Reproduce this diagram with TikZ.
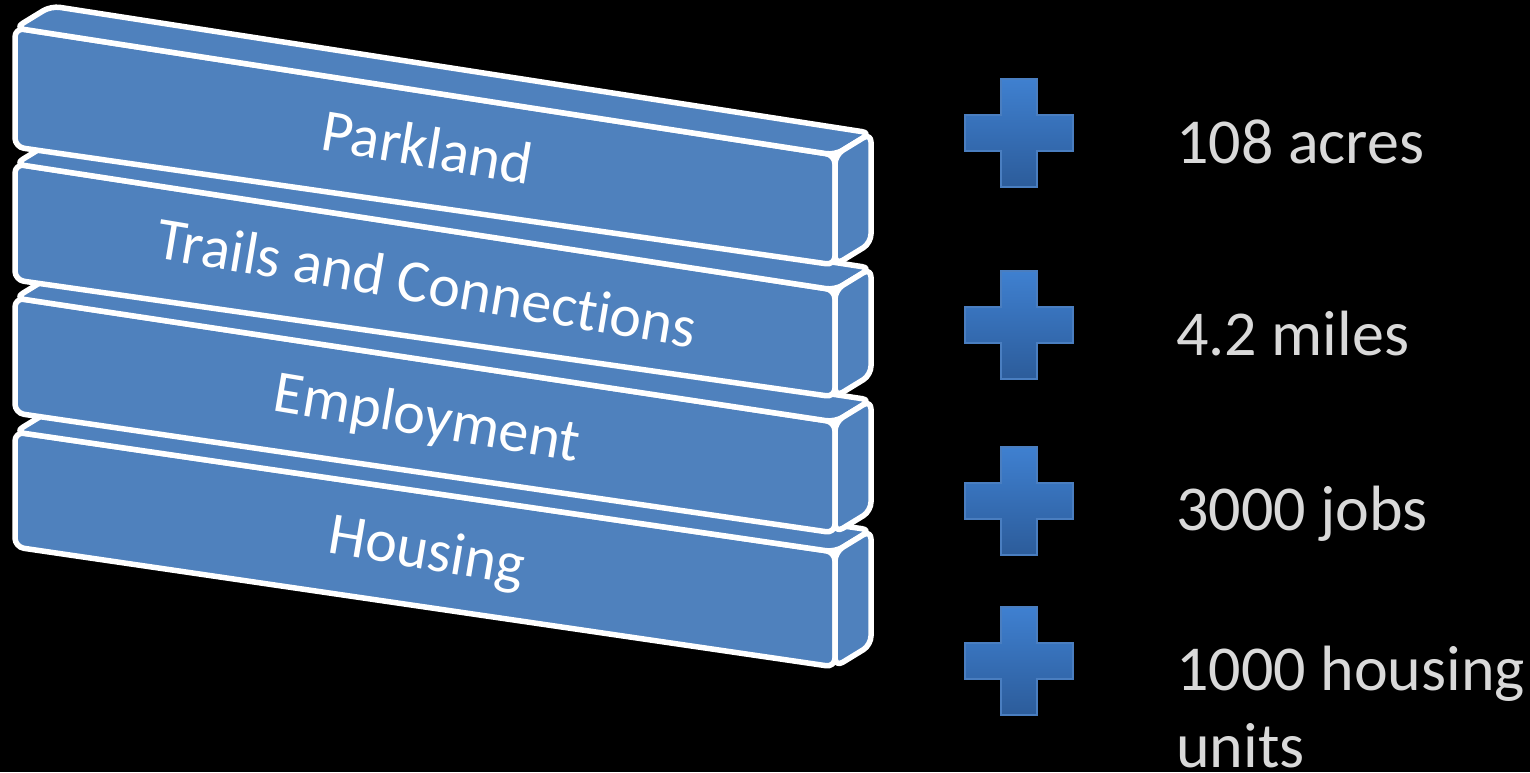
\documentclass[tikz,border=0pt]{standalone}
\usepackage{fontspec}
\setmainfont{Carlito}[Ligatures=CommonOff]
\definecolor{slabblue}{HTML}{4F81BD}
\definecolor{plustop}{HTML}{3F80D0}
\definecolor{plusbot}{HTML}{2C5C9A}
\definecolor{plusedge}{HTML}{4A7EC0}
\definecolor{txtgray}{HTML}{D9D9D9}
\tikzset{
  face/.style={fill=slabblue, draw=white, line width=5.5pt, rounded corners=9pt, line join=round},
  slablabel/.style={text=white, font=\fontsize{60}{72}\selectfont, rotate=-9.5, anchor=base, inner sep=0pt},
  vallabel/.style={text=txtgray, font=\fontsize{64}{77}\selectfont, anchor=base west, inner sep=0pt, align=left},
  plusshape/.style={top color=plustop, bottom color=plusbot, draw=plusedge, line width=2pt}
}
\newcommand\drawslab[4]{%
  \path[face] (15,#1) -- (835,#3) -- (835,#4) -- (15,#2) -- cycle;
  \path[face] (15,#1) -- ([shift={(36,-22)}]15,#1) -- ([shift={(36,-22)}]835,#3) -- (835,#3) -- cycle;
  \path[face] (835,#3) -- ([shift={(36,-22)}]835,#3) -- ([shift={(36,-22)}]835,#4) -- (835,#4) -- cycle;
}
\newcommand\drawplus[1]{%
  \begin{scope}[shift={(1019,#1)}]
    \shadedraw[plusshape] (-18,-54) -- (18,-54) -- (18,-18) -- (54,-18) -- (54,18) -- (18,18) -- (18,54) -- (-18,54) -- (-18,18) -- (-54,18) -- (-54,-18) -- (-18,-18) -- cycle;
  \end{scope}
}
\begin{document}
\begin{tikzpicture}[x=1pt,y=-1pt]
\fill[black] (0,0) rectangle (1530,772);
\useasboundingbox (0,0) rectangle (1530,772);
% slabs, bottom first
\drawslab{432}{547}{552}{667}
\drawslab{298}{413}{422}{533}
\drawslab{164}{280}{290}{397}
\drawslab{28}{147}{155}{265}
\node[slablabel] (parkland) at (424,167) {Parkland};
\node[slablabel] (trails) at (424,303) {Trails and Connections};
\node[slablabel] (employment) at (424,436) {Employment};
\node[slablabel] (housing) at (424,569) {Housing};
% plus signs
\drawplus{133}
\drawplus{325}
\drawplus{501}
\drawplus{661}
\node[vallabel] (acres) at (1176,163) {108 acres};
\node[vallabel] (miles) at (1176,355) {4.2 miles};
\node[vallabel] (jobs) at (1176,530) {3000 jobs};
\node[vallabel] (units) at (1176,767) {1000 housing\\units};
\end{tikzpicture}
\end{document}
